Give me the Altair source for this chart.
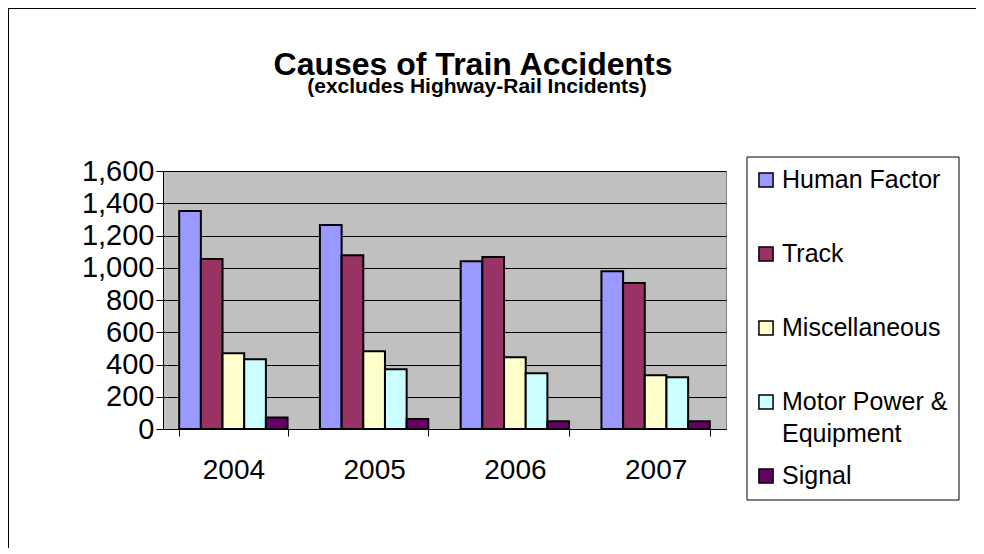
import altair as alt
import pandas as pd

years = ["2004", "2005", "2006", "2007"]
series = ["Human Factor", "Track", "Miscellaneous", "Motor Power & Equipment", "Signal"]
human_factor = [1352, 1265, 1041, 979]
track = [1054, 1078, 1066, 905]
miscellaneous = [470, 482, 445, 333]
motor_power = [433, 370, 346, 321]
signal = [72, 62, 48, 48]
colors = ["#9999FF", "#993366", "#FFFFCC", "#CCFFFF", "#660066"]
legend_first_lines = ["Human Factor", "Track", "Miscellaneous", "Motor Power &", "Signal"]
legend_second_lines = [("Motor Power & Equipment", "Equipment")]
y_ticks = [0, 200, 400, 600, 800, 1000, 1200, 1400, 1600]
title_text = "Causes of Train Accidents"
subtitle_text = "(excludes Highway-Rail Incidents)"

FONT = "Liberation Sans"

values = [human_factor, track, miscellaneous, motor_power, signal]
rows = []
for s, vals in zip(series, values):
    for yr, v in zip(years, vals):
        rows.append({"year": yr, "series": s, "count": v})
df = pd.DataFrame(rows)

color_scale = alt.Scale(domain=series, range=colors)
legend_y = alt.Scale(type="point", domain=series, range=[9, 305], padding=0)

border = alt.Chart(alt.Data(values=[{}])).mark_rect(
    filled=False, stroke="black", strokeWidth=2
).encode(x=alt.value(-155), x2=alt.value(900), y=alt.value(-163), y2=alt.value(600))

title_mark = alt.Chart(alt.Data(values=[{"t": title_text}])).mark_text(
    align="center", baseline="alphabetic", fontSize=32, fontWeight="bold",
    font=FONT, color="black"
).encode(x=alt.value(310), y=alt.value(-96), text="t:N")

subtitle_mark = alt.Chart(alt.Data(values=[{"t": subtitle_text}])).mark_text(
    align="center", baseline="alphabetic", fontSize=21, fontWeight="bold",
    font=FONT, color="black"
).encode(x=alt.value(314), y=alt.value(-78), text="t:N")

bars = alt.Chart(df).mark_bar(stroke="black", strokeWidth=2).encode(
    x=alt.X("year:N", sort=years,
            scale=alt.Scale(paddingInner=0.23, paddingOuter=0.115),
            axis=alt.Axis(title=None, labelAngle=0, tickBand="extent", tickSize=7,
                          labelPadding=20, labelFontSize=28, labelFont=FONT,
                          labelColor="black", tickColor="black", domainColor="black",
                          grid=False)),
    xOffset=alt.XOffset("series:N", sort=series,
                        scale=alt.Scale(domain=series, paddingInner=0, paddingOuter=0)),
    y=alt.Y("count:Q", scale=alt.Scale(domain=[0, 1600], nice=False),
            axis=alt.Axis(title=None, values=y_ticks, format=",d", tickSize=7,
                          labelPadding=2, labelFontSize=29, labelFont=FONT,
                          labelColor="black", tickColor="black", domainColor="black",
                          gridColor="black", gridWidth=1, gridOpacity=1)),
    color=alt.Color("series:N", scale=color_scale, legend=None),
)

legend_box = alt.Chart(alt.Data(values=[{}])).mark_rect(
    fill="white", stroke="black", strokeWidth=1
).encode(x=alt.value(584), x2=alt.value(796), y=alt.value(-14), y2=alt.value(329))

leg_df = pd.DataFrame({"series": series, "label": legend_first_lines})
leg_symbols = alt.Chart(leg_df).mark_point(
    shape="square", filled=True, size=200, stroke="black", strokeWidth=1.5, opacity=1
).encode(
    x=alt.value(603),
    y=alt.Y("series:N", scale=legend_y, axis=None),
    color=alt.Color("series:N", scale=color_scale, legend=None),
)
leg_text = alt.Chart(leg_df).mark_text(
    align="left", baseline="middle", fontSize=25, font=FONT, color="black"
).encode(
    x=alt.value(619),
    y=alt.Y("series:N", scale=legend_y, axis=None),
    text="label:N",
)
leg2_df = pd.DataFrame(legend_second_lines, columns=["series", "label"])
leg_text2 = alt.Chart(leg2_df).mark_text(
    align="left", baseline="middle", fontSize=25, font=FONT, color="black", dy=32
).encode(
    x=alt.value(619),
    y=alt.Y("series:N", scale=legend_y, axis=None),
    text="label:N",
)

chart = alt.layer(
    border, title_mark, subtitle_mark, bars, legend_box, leg_symbols, leg_text, leg_text2
).resolve_scale(
    y="independent"
).properties(
    width=563,
    height=258,
    background="white",
    autosize=alt.AutoSizeParams(type="none"),
    padding={"left": 155, "top": 163, "right": 250, "bottom": 119},
).configure_view(
    fill="#C0C0C0", stroke="#808080", strokeWidth=1
)

chart.save("out.html", embed_options={"renderer": "svg", "actions": False})
